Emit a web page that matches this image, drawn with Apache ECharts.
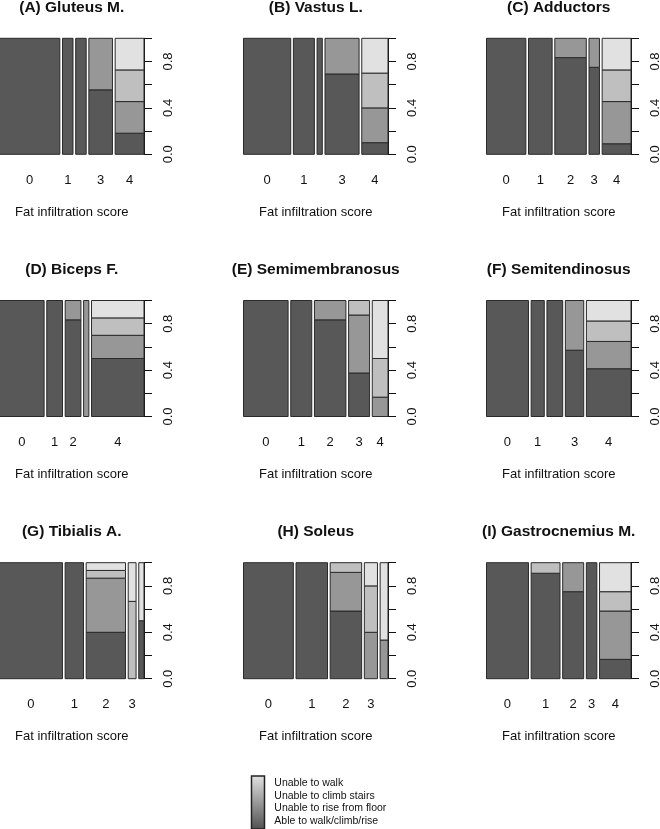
<!DOCTYPE html>
<html>
<head>
<meta charset="utf-8">
<script src="https://cdn.jsdelivr.net/npm/echarts@6/dist/echarts.min.js"></script>
<style>
html, body { margin: 0; padding: 0; background: #fff; }
#chart { width: 660px; height: 829px; }
</style>
</head>
<body>
<div id="chart"></div>
<script>
// patients per fat infiltration score (0..4), split by walking ability
// order inside each row: able, unable to rise, unable to climb, unable to walk
var scores = ['0', '1', '2', '3', '4'];
var outcomes = ['Able to walk/climb/rise', 'Unable to rise from floor', 'Unable to climb stairs', 'Unable to walk'];

var gluteus   = [[23,0,0,0],[4,0,0,0],[4,0,0,0],[5,4,0,0],[2,3,3,3]];
var vastus    = [[18,0,0,0],[8,0,0,0],[2,0,0,0],[9,4,0,0],[1,3,3,3]];
var adductors = [[15,0,0,0],[9,0,0,0],[10,2,0,0],[3,1,0,0],[1,4,3,3]];
var biceps    = [[17,0,0,0],[6,0,0,0],[5,1,0,0],[0,2,0,0],[10,4,3,3]];
var semimemb  = [[17,0,0,0],[8,0,0,0],[10,2,0,0],[3,4,1,0],[0,1,2,3]];
var semitend  = [[16,0,0,0],[5,0,0,0],[6,0,0,0],[4,3,0,0],[7,4,3,3]];
var tibialis  = [[24,0,0,0],[7,0,0,0],[6,7,1,1],[0,0,2,1],[1,0,0,1]];
var soleus    = [[19,0,0,0],[12,0,0,0],[7,4,1,0],[0,2,2,1],[0,1,0,2]];
var gastroc   = [[16,0,0,0],[10,0,1,0],[6,2,0,0],[4,0,0,0],[2,5,2,3]];

var titles = ['(A) Gluteus M.', '(B) Vastus L.', '(C) Adductors',
              '(D) Biceps F.', '(E) Semimembranosus', '(F) Semitendinosus',
              '(G) Tibialis A.', '(H) Soleus', '(I) Gastrocnemius M.'];
var tables = [gluteus, vastus, adductors, biceps, semimemb, semitend, tibialis, soleus, gastroc];

// x labels R kept (the others were dropped for overlap)
var xShown = [
  ['0','1','','3','4'], ['0','1','','3','4'], ['0','1','2','3','4'],
  ['0','1','2','','4'], ['0','1','2','3','4'], ['0','1','','3','4'],
  ['0','1','2','3',''], ['0','1','2','3',''], ['0','1','2','3','4']
];
var yTickLabels = ['0.0', '', '0.4', '', '0.8', ''];

var fills = ['#585858', '#979797', '#bfbfbf', '#e1e1e1'];
var off = 0.02;

var colLeft = [-0.5, 243.5, 486.5];
var rowTop = [38.3, 300.5, 562.7];
var plotW = 144.5, plotH = 116;
var font = 'Liberation Sans, Arial, sans-serif';

var dom = document.getElementById('chart');
var myChart = echarts.init(dom, null, {renderer: 'canvas'});

var grids = [], xAxes = [], yAxes = [], series = [], graphics = [];

tables.forEach(function (tab, k) {
  var col = k % 3, row = Math.floor(k / 3);
  grids.push({left: colLeft[col], top: rowTop[row], width: plotW, height: plotH,
              containLabel: false, outerBoundsMode: 'none'});

  var total = 0;
  tab.forEach(function (r) { r.forEach(function (v) { total += v; }); });

  var rects = [], labs = [];
  var x = 0;
  tab.forEach(function (r, i) {
    var n = r.reduce(function (a, b) { return a + b; }, 0);
    var w = n / total;
    var y = 0;
    r.forEach(function (v, j) {
      if (v > 0) {
        rects.push([x, x + w, y, y + v / n, j]);
        y += v / n;
      }
    });
    labs.push([x + w / 2, i]);
    x += w + off;
  });
  var xmax = 1 + off * (tab.length - 1);

  xAxes.push({
    gridIndex: k, type: 'value', min: 0, max: xmax,
    axisLine: {show: false, onZero: false}, axisTick: {show: false}, axisLabel: {show: false}, splitLine: {show: false},
    name: 'Fat infiltration score', nameLocation: 'middle', nameGap: 51.5,
    nameTextStyle: {fontFamily: font, fontSize: 13, color: '#111'}
  });
  yAxes.push({
    gridIndex: k, type: 'value', min: 0, max: 1, interval: 0.2, position: 'right',
    axisLine: {show: true, onZero: false, lineStyle: {color: '#111', width: 1}},
    axisTick: {show: true, length: 8, lineStyle: {color: '#111'}},
    axisLabel: {
      rotate: 90, margin: 18, fontFamily: font, fontSize: 13, color: '#111',
      formatter: function (v, idx) { return yTickLabels[Math.round(v * 5)]; }
    },
    splitLine: {show: false}
  });

  series.push({
    type: 'custom', xAxisIndex: k, yAxisIndex: k, data: rects, silent: true,
    renderItem: function (params, api) {
      var p0 = api.coord([api.value(0), api.value(3)]);
      var p1 = api.coord([api.value(1), api.value(2)]);
      return {
        type: 'rect',
        shape: {x: p0[0], y: p0[1], width: p1[0] - p0[0], height: p1[1] - p0[1]},
        style: {fill: fills[api.value(4)], stroke: '#2a2a2a', lineWidth: 1}
      };
    }
  });
  var shown = xShown[k];
  series.push({
    type: 'custom', xAxisIndex: k, yAxisIndex: k, data: labs, silent: true,
    renderItem: function (params, api) {
      var p = api.coord([api.value(0), 0]);
      return {
        type: 'text',
        style: {x: p[0], y: p[1] + 26, text: shown[api.value(1)], align: 'center', verticalAlign: 'middle',
                font: '13px ' + font, fill: '#111'}
      };
    }
  });

  graphics.push({
    type: 'text',
    style: {x: colLeft[col] + plotW / 2, y: rowTop[row] - 30.5, text: titles[k], align: 'center', verticalAlign: 'middle',
            font: 'bold 15.5px ' + font, fill: '#111'}
  });
});

// legend: shaded key box with the four outcomes
graphics.push({
  type: 'rect',
  shape: {x: 251.5, y: 776, width: 13, height: 53},
  style: {
    fill: new echarts.graphic.LinearGradient(0, 0, 0, 1, [
      {offset: 0, color: '#e2e2e2'}, {offset: 1, color: '#505050'}
    ]),
    stroke: '#222', lineWidth: 1.5
  }
});
var legendLines = outcomes.slice().reverse();
legendLines.forEach(function (t, i) {
  graphics.push({
    type: 'text',
    style: {x: 274.3, y: 783.3 + i * 12.6, text: t, align: 'left', verticalAlign: 'middle',
            font: '10.5px ' + font, fill: '#111'}
  });
});

var option = {
  backgroundColor: '#fff',
  animation: false,
  grid: grids,
  xAxis: xAxes,
  yAxis: yAxes,
  series: series,
  graphic: graphics
};
myChart.setOption(option, true);
</script>
</body>
</html>
